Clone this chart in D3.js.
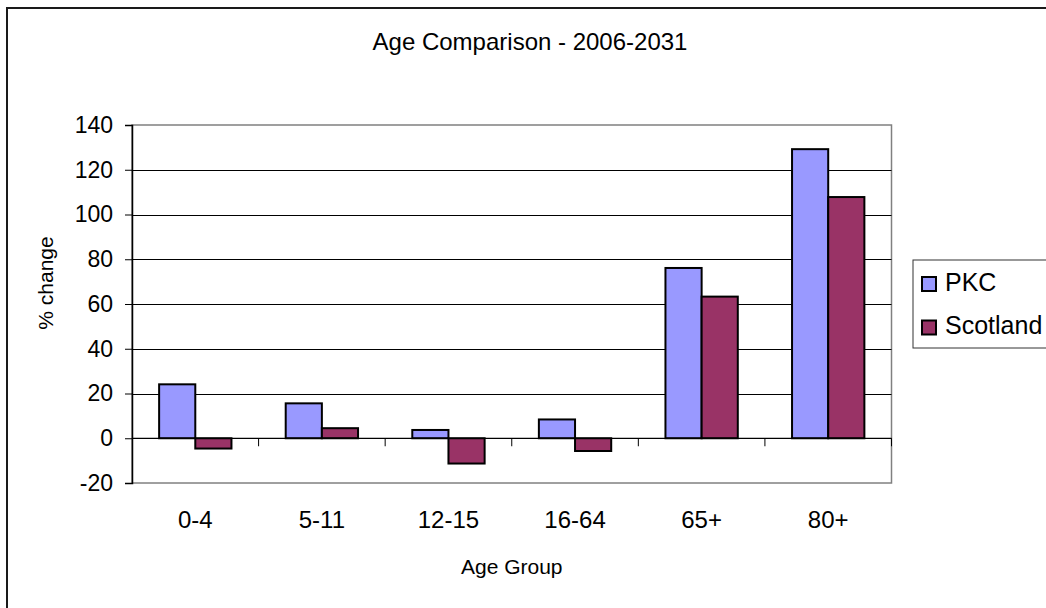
<!DOCTYPE html>
<html>
<head>
<meta charset="utf-8">
<script src="https://cdn.jsdelivr.net/npm/d3@7"></script>
<style>
  body { margin: 0; background: #fff; }
  svg { display: block; font-family: Arial, "Liberation Sans", sans-serif; }
</style>
</head>
<body>
<div id="chart"></div>
<script>
// chart data
const groups = ["0-4", "5-11", "12-15", "16-64", "65+", "80+"];
const seriesNames = ["PKC", "Scotland"];
const pkc = [24.1, 15.6, 3.7, 8.4, 76.1, 129.2];
const scotland = [-4.6, 4.5, -11.3, -5.7, 63.3, 107.8];
const yTicks = [-20, 0, 20, 40, 60, 80, 100, 120, 140];
const colors = ["#9999FF", "#993366"];

const width = 1046, height = 608;
const plot = { left: 132, right: 891.5, top: 125, bottom: 483 };

const svg = d3.select("#chart").append("svg")
    .attr("width", width).attr("height", height);

// outer chart frame (runs off the right and bottom edges)
svg.append("rect")
    .attr("x", 7).attr("y", 8)
    .attr("width", 1200).attr("height", 800)
    .attr("fill", "#fff").attr("stroke", "#1a1a1a").attr("stroke-width", 2);

svg.append("text")
    .attr("x", 530).attr("y", 50)
    .attr("text-anchor", "middle").attr("font-size", 24)
    .text("Age Comparison - 2006-2031");

// scales
const x0 = d3.scaleBand().domain(groups).range([plot.left, plot.right]).padding(0);
const x1 = d3.scaleBand().domain(seriesNames).range([0, x0.bandwidth()])
    .paddingInner(0).paddingOuter(0.75);
const y = d3.scaleLinear().domain([-20, 140]).range([plot.bottom, plot.top]);

// plot area border
svg.append("rect")
    .attr("x", plot.left).attr("y", plot.top)
    .attr("width", plot.right - plot.left).attr("height", plot.bottom - plot.top)
    .attr("fill", "none").attr("stroke", "#808080").attr("stroke-width", 1.5);

// gridlines
svg.append("g").selectAll("line")
    .data(yTicks.filter(d => d > -20 && d < 140))
    .join("line")
    .attr("x1", plot.left).attr("x2", plot.right)
    .attr("y1", d => Math.round(y(d)) + 0.5).attr("y2", d => Math.round(y(d)) + 0.5)
    .attr("stroke", "#000").attr("stroke-width", 1);

// y axis (plain hyphen for negatives, like the original)
const yAxis = svg.append("g")
    .attr("transform", `translate(${plot.left},0)`)
    .call(d3.axisLeft(y).tickValues(yTicks).tickSize(7).tickPadding(12)
        .tickFormat(d => String(d)));
yAxis.select(".domain").attr("stroke", "#000").attr("stroke-width", 1.5);
yAxis.selectAll(".tick line").attr("stroke", "#000");
yAxis.selectAll("text").attr("font-size", 23).attr("fill", "#000")
    .attr("font-family", "Arial, 'Liberation Sans', sans-serif");

svg.append("text")
    .attr("transform", `translate(53,${(plot.top + plot.bottom) / 2 - 21}) rotate(-90)`)
    .attr("text-anchor", "middle").attr("font-size", 21)
    .text("% change");

// bars
const seriesData = [pkc, scotland];
const barG = svg.append("g");
seriesNames.forEach((s, si) => {
  barG.append("g").selectAll("rect")
    .data(groups.map((g, i) => ({ g, v: seriesData[si][i] })))
    .join("rect")
    .attr("x", d => x0(d.g) + x1(s))
    .attr("y", d => y(Math.max(0, d.v)))
    .attr("width", x1.bandwidth())
    .attr("height", d => Math.abs(y(d.v) - y(0)))
    .attr("fill", colors[si])
    .attr("stroke", "#000").attr("stroke-width", 2);
});

// category axis on the zero line
const y0 = y(0);
svg.append("line")
    .attr("x1", plot.left).attr("x2", plot.right)
    .attr("y1", y0).attr("y2", y0)
    .attr("stroke", "#000").attr("stroke-width", 1);
svg.append("g").selectAll("line")
    .data(groups.slice(1).map(g => x0(g)).concat([plot.right]))
    .join("line")
    .attr("x1", d => d).attr("x2", d => d)
    .attr("y1", y0).attr("y2", y0 + 8)
    .attr("stroke", "#000").attr("stroke-width", 1);

svg.append("g").selectAll("text")
    .data(groups)
    .join("text")
    .attr("x", d => x0(d) + x0.bandwidth() / 2)
    .attr("y", 528)
    .attr("text-anchor", "middle").attr("font-size", 24)
    .text(d => d);

svg.append("text")
    .attr("x", (plot.left + plot.right) / 2).attr("y", 574)
    .attr("text-anchor", "middle").attr("font-size", 21)
    .text("Age Group");

// legend
const legend = svg.append("g");
legend.append("rect")
    .attr("x", 913).attr("y", 260)
    .attr("width", 200).attr("height", 88)
    .attr("fill", "#fff").attr("stroke", "#333").attr("stroke-width", 1);
seriesNames.forEach((s, i) => {
  legend.append("rect")
    .attr("x", 922).attr("y", 277 + i * 43.5)
    .attr("width", 14).attr("height", 14)
    .attr("fill", colors[i]).attr("stroke", "#000").attr("stroke-width", 2);
  legend.append("text")
    .attr("x", 945).attr("y", 290.5 + i * 43)
    .attr("font-size", 25)
    .text(s);
});
</script>
</body>
</html>
